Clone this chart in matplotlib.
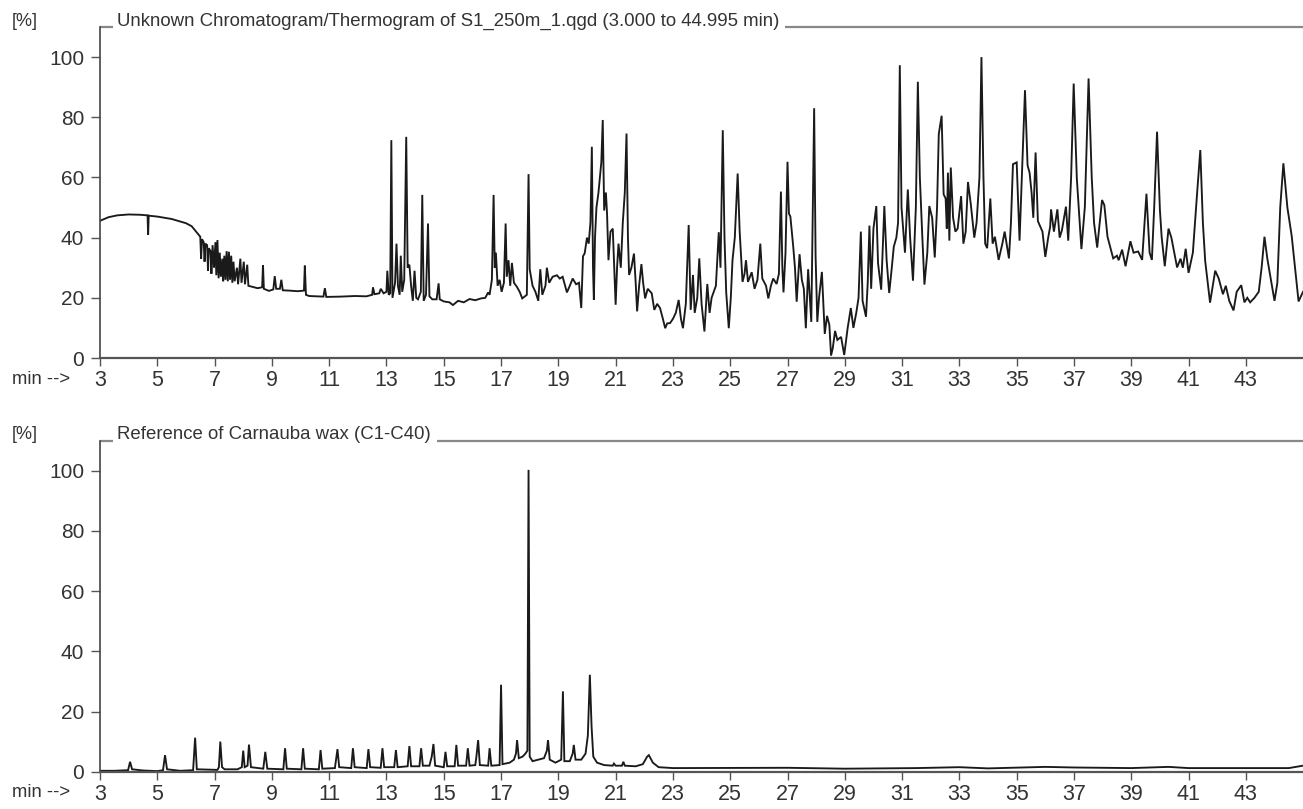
import matplotlib
matplotlib.use("Agg")
import matplotlib.pyplot as plt
import matplotlib.transforms as mtransforms

plt.rcParams['font.family'] = ['Liberation Sans', 'DejaVu Sans']

# ---------------- data ----------------
x_ticks = [3, 5, 7, 9, 11, 13, 15, 17, 19, 21, 23, 25, 27, 29, 31, 33, 35, 37, 39, 41, 43]
y_ticks = [0, 20, 40, 60, 80, 100]

title_top = "Unknown Chromatogram/Thermogram of S1_250m_1.qgd (3.000 to 44.995 min)"
title_bottom = "Reference of Carnauba wax (C1-C40)"

unknown_time = [
    3.00, 3.3, 3.6, 4.0, 4.4, 4.66, 4.68, 4.70, 5.0, 5.5, 6.0, 6.2, 6.4,
    6.50, 6.53, 6.56, 6.62, 6.65, 6.68, 6.74, 6.77, 6.80, 6.86, 6.89, 6.93, 6.98,
    7.03, 7.06, 7.10, 7.14, 7.18, 7.22, 7.27, 7.30, 7.34, 7.38, 7.42, 7.46, 7.50,
    7.54, 7.58, 7.62, 7.66, 7.70, 7.78, 7.82, 7.90, 7.94, 8.02, 8.06, 8.14, 8.18,
    8.30, 8.50, 8.66, 8.69, 8.72, 8.90, 9.05, 9.10, 9.15, 9.28, 9.33, 9.38, 9.60,
    9.90, 10.12, 10.15, 10.19, 10.30, 10.80, 10.85, 10.90, 11.40, 11.90, 12.30,
    12.50, 12.53, 12.58, 12.75, 12.80, 12.90, 13.00, 13.03, 13.08, 13.13, 13.17,
    13.21, 13.30, 13.35, 13.40, 13.46, 13.50, 13.55, 13.62, 13.69, 13.74, 13.80,
    13.86, 13.92, 13.98, 14.04, 14.10, 14.20, 14.25, 14.30, 14.38, 14.45, 14.50,
    14.60, 14.75, 14.82, 14.86, 15.00, 15.20, 15.32, 15.50, 15.70, 15.90, 16.10,
    16.30, 16.45, 16.55, 16.60, 16.68, 16.74, 16.78, 16.82, 16.88, 16.95, 17.02,
    17.10, 17.16, 17.20, 17.26, 17.32, 17.38, 17.45, 17.55, 17.65, 17.74, 17.90,
    17.96, 18.00, 18.10, 18.20, 18.30, 18.37, 18.44, 18.55, 18.60, 18.68, 18.80,
    18.95, 19.05, 19.15, 19.30, 19.40, 19.50, 19.62, 19.72, 19.80, 19.86, 19.92,
    20.00, 20.06, 20.12, 20.17, 20.21, 20.24, 20.28, 20.33, 20.40, 20.45, 20.50,
    20.55, 20.60, 20.66, 20.70, 20.75, 20.82, 20.90, 20.95, 21.00, 21.05, 21.10,
    21.18, 21.25, 21.32, 21.38, 21.43, 21.47, 21.55, 21.64, 21.70, 21.75, 21.82,
    21.90, 21.96, 22.03, 22.12, 22.26, 22.35, 22.45, 22.55, 22.65, 22.73, 22.80,
    22.90, 23.00, 23.10, 23.20, 23.28, 23.35, 23.45, 23.55, 23.62, 23.70, 23.76,
    23.85, 23.92, 24.00, 24.10, 24.20, 24.28, 24.35, 24.50, 24.60, 24.66, 24.74,
    24.80, 24.86, 24.95, 25.02, 25.08, 25.16, 25.26, 25.33, 25.43, 25.50, 25.55,
    25.62, 25.75, 25.85, 25.95, 26.05, 26.12, 26.25, 26.33, 26.42, 26.50, 26.62,
    26.70, 26.77, 26.82, 26.86, 26.93, 27.00, 27.05, 27.10, 27.20, 27.26, 27.32,
    27.42, 27.50, 27.57, 27.64, 27.72, 27.78, 27.83, 27.93, 27.98, 28.04, 28.10,
    28.20, 28.30, 28.38, 28.46, 28.52, 28.58, 28.66, 28.74, 28.87, 28.98, 29.10,
    29.21, 29.30, 29.40, 29.48, 29.56, 29.62, 29.74, 29.80, 29.86, 29.92, 30.00,
    30.10, 30.16, 30.27, 30.38, 30.46, 30.55, 30.64, 30.71, 30.80, 30.86, 30.92,
    30.98, 31.03, 31.10, 31.20, 31.28, 31.38, 31.48, 31.55, 31.62, 31.70, 31.78,
    31.88, 31.95, 32.05, 32.14, 32.22, 32.28, 32.38, 32.45, 32.52, 32.56, 32.60,
    32.65, 32.70, 32.78, 32.86, 32.94, 33.06, 33.14, 33.22, 33.30, 33.40, 33.52,
    33.60, 33.70, 33.77, 33.84, 33.90, 33.97, 34.08, 34.16, 34.24, 34.37, 34.50,
    34.58, 34.73, 34.80, 34.87, 35.00, 35.10, 35.18, 35.29, 35.38, 35.45, 35.52,
    35.58, 35.66, 35.74, 35.90, 36.00, 36.10, 36.17, 36.20, 36.30, 36.42, 36.50,
    36.58, 36.72, 36.80, 36.90, 36.99, 37.10, 37.26, 37.38, 37.51, 37.62, 37.70,
    37.81, 37.98, 38.06, 38.17, 38.37, 38.50, 38.56, 38.68, 38.80, 38.97, 39.08,
    39.24, 39.38, 39.53, 39.64, 39.72, 39.80, 39.90, 40.00, 40.06, 40.17, 40.30,
    40.40, 40.60, 40.72, 40.80, 40.90, 41.00, 41.15, 41.30, 41.41, 41.50, 41.58,
    41.75, 41.93, 42.05, 42.20, 42.30, 42.42, 42.57, 42.68, 42.84, 42.95, 43.05,
    43.15, 43.30, 43.45, 43.55, 43.65, 43.75, 44.00, 44.10, 44.20, 44.31, 44.45,
    44.60, 44.84, 44.995,
]
unknown_signal = [
    45.6, 46.8, 47.4, 47.7, 47.6, 47.4, 41.0, 47.3, 47.0, 46.2, 44.8, 43.8, 41.5,
    40.3, 33.0, 39.5, 38.5, 32.0, 38.0, 37.5, 29.0, 36.5, 35.5, 28.0, 37.5, 30.0,
    38.5, 27.5, 39.2, 26.5, 35.0, 27.0, 33.0, 25.5, 34.0, 26.0, 35.5, 25.5, 35.3,
    26.0, 34.0, 25.0, 32.0, 25.5, 30.0, 24.5, 33.0, 25.0, 32.0, 24.5, 31.0, 24.0,
    23.7, 23.2, 23.5, 30.9, 23.0, 22.3, 22.8, 27.2, 23.0, 23.0, 26.0, 22.5, 22.4,
    22.2, 22.4, 30.7, 21.0, 20.6, 20.4, 23.2, 20.3, 20.4, 20.6, 20.5,
    21.0, 23.5, 21.2, 21.5, 23.0, 21.5, 22.0, 29.0, 21.0, 21.5, 72.4,
    20.0, 25.0, 38.0, 24.0, 21.0, 34.0, 22.0, 26.0, 73.5, 30.0, 31.0,
    24.0, 19.0, 29.0, 20.0, 19.5, 22.0, 54.2, 19.0, 21.0, 44.7, 20.5,
    19.5, 19.5, 24.8, 19.5, 18.8, 18.5, 17.6, 19.0, 18.5, 19.6, 19.2,
    19.8, 20.0, 21.8, 21.0, 26.0, 54.2, 30.0, 35.0, 24.0, 26.0, 22.0,
    25.0, 44.7, 27.0, 32.5, 24.0, 31.6, 25.0, 23.7, 22.0, 19.8, 21.0,
    61.1, 29.5, 24.0, 22.0, 19.0, 29.5, 21.0, 24.0, 30.0, 25.0, 27.0,
    27.5, 26.4, 27.0, 21.8, 24.0, 26.4, 24.5, 25.0, 16.6, 33.8, 34.8,
    40.0, 38.0, 45.0, 70.2, 30.0, 19.3, 40.0, 50.0, 54.9, 60.0, 65.0,
    79.1, 49.0, 55.0, 48.0, 32.5, 42.0, 43.0, 30.0, 17.7, 30.0, 38.0,
    30.0, 45.0, 55.0, 74.6, 40.0, 27.6, 30.0, 34.7, 25.0, 15.5, 24.0,
    31.2, 25.0, 19.8, 23.0, 21.5, 16.0, 18.0, 16.6, 13.0, 9.9, 11.5,
    11.6, 13.0, 15.0, 19.3, 13.0, 9.9, 18.0, 44.2, 16.0, 27.6, 15.0,
    20.0, 33.1, 18.0, 8.8, 24.6, 15.0, 20.0, 24.0, 41.8, 30.0, 75.7,
    40.0, 21.8, 9.9, 20.0, 32.5, 40.0, 61.3, 42.0, 25.3, 28.0, 32.5,
    25.3, 28.5, 23.0, 26.0, 38.0, 26.4, 24.0, 19.8, 24.0, 26.4, 24.6,
    28.0, 55.3, 30.0, 21.8, 35.0, 65.2, 48.0, 47.0, 37.0, 30.0, 18.7,
    34.5, 26.0, 23.0, 9.9, 29.5, 20.0, 12.0, 83.0, 34.0, 12.0, 20.0,
    28.6, 8.0, 14.0, 11.0, 0.8, 3.3, 9.0, 6.0, 7.0, 1.0, 10.0,
    16.6, 10.0, 15.0, 20.0, 42.0, 19.0, 13.7, 25.0, 44.0, 23.0, 43.0,
    50.5, 31.5, 22.7, 50.5, 32.5, 21.6, 30.0, 37.0, 40.0, 45.0, 97.3,
    50.0, 43.7, 35.0, 56.0, 40.0, 25.7, 50.0, 91.8, 60.0, 41.6, 24.4,
    35.0, 50.5, 46.6, 33.4, 50.0, 74.4, 80.5, 54.4, 53.0, 43.0, 61.6,
    39.0, 63.3, 46.6, 42.0, 43.0, 53.8, 38.0, 42.0, 58.5, 51.0, 40.0,
    45.0, 60.0, 100.0, 60.0, 38.0, 36.5, 53.0, 38.0, 40.3, 32.6, 38.0,
    42.0, 33.1, 45.0, 64.4, 65.0, 39.0, 60.0, 89.0, 64.0, 61.6, 55.0,
    46.6, 68.3, 45.5, 42.0, 33.6, 40.0, 43.7, 49.4, 42.0, 49.4, 40.0,
    42.5, 50.3, 39.0, 60.0, 91.2, 59.6, 36.2, 50.3, 92.9, 60.0, 45.0,
    36.7, 52.5, 50.8, 40.3, 33.1, 34.0, 32.5, 36.0, 30.5, 38.8, 35.0,
    35.4, 32.6, 54.6, 35.0, 32.6, 50.0, 75.2, 49.2, 40.3, 30.5, 43.0,
    40.0, 30.1, 33.0, 30.0, 36.3, 28.3, 35.0, 55.0, 69.1, 45.0, 32.3,
    18.4, 29.0, 26.5, 21.2, 24.0, 19.0, 15.8, 22.0, 24.2, 18.5, 20.0,
    18.5, 20.0, 22.0, 30.0, 40.3, 33.0, 19.0, 25.0, 50.0, 64.7, 50.0,
    40.6, 18.8, 22.0,
]

reference_time = [
    3.0, 3.5, 3.98, 4.05, 4.12, 4.5, 5.0, 5.2, 5.27, 5.34, 5.8, 6.25, 6.32, 6.38,
    7.1, 7.15, 7.2, 7.26, 7.35, 7.8, 7.95, 8.0, 8.05, 8.15, 8.2, 8.27, 8.7, 8.77,
    8.84, 9.4, 9.46, 9.52, 10.03, 10.09, 10.15, 10.64, 10.7, 10.76, 11.2, 11.29,
    11.35, 11.77, 11.83, 11.89, 12.31, 12.37, 12.43, 12.8, 12.86, 12.92, 13.27,
    13.33, 13.39, 13.74, 13.8, 13.86, 14.15, 14.21, 14.27, 14.5, 14.58, 14.64,
    14.7, 15.0, 15.06, 15.12, 15.38, 15.44, 15.5, 15.78, 15.84, 15.9, 16.1, 16.14,
    16.2, 16.26, 16.55, 16.6, 16.66, 16.95, 17.0, 17.05, 17.3, 17.45, 17.52,
    17.56, 17.62, 17.75, 17.85, 17.92, 17.96, 18.0, 18.1, 18.3, 18.5, 18.6,
    18.64, 18.7, 18.9, 19.1, 19.16, 19.21, 19.4, 19.5, 19.54, 19.6, 19.8, 19.95,
    20.03, 20.1, 20.16, 20.22, 20.35, 20.6, 20.9, 20.94, 21.0, 21.22, 21.27,
    21.32, 21.7, 21.95, 22.1, 22.16, 22.3, 22.5, 23.0, 27.0, 29.0, 31.5, 33.0,
    34.0, 36.0, 37.0, 39.0, 40.3, 41.0, 44.5, 44.995,
]
reference_signal = [
    0.3, 0.3, 0.5, 3.3, 0.8, 0.4, 0.2, 0.5, 5.5, 0.8, 0.3, 0.5, 11.3, 0.8,
    0.6, 1.5, 10.0, 1.5, 0.8, 0.8, 1.5, 7.0, 1.5, 2.0, 9.0, 1.5, 1.0, 6.6,
    1.0, 0.8, 7.8, 1.0, 0.8, 7.8, 1.0, 0.8, 7.2, 1.0, 1.2, 7.5,
    1.5, 1.2, 7.8, 1.5, 1.2, 7.5, 1.5, 1.3, 7.8, 1.5, 1.5,
    7.2, 1.5, 1.8, 8.5, 1.8, 1.8, 7.8, 2.0, 2.0, 5.0, 9.2,
    2.0, 1.5, 6.6, 1.8, 1.8, 8.9, 2.0, 2.0, 7.8, 2.0, 2.2, 5.0,
    10.5, 2.2, 2.0, 7.8, 2.0, 2.2, 28.9, 2.5, 3.0, 4.0, 6.0,
    10.5, 4.5, 5.0, 6.0, 7.0, 100.3, 5.0, 3.5, 4.0, 4.5, 7.0,
    10.5, 4.0, 3.0, 4.0, 26.7, 3.5, 3.5, 6.0, 8.9, 4.0, 4.0, 6.0,
    12.0, 32.2, 15.0, 5.0, 3.0, 2.2, 2.0, 2.7, 2.0, 2.0, 3.3,
    2.0, 1.8, 2.5, 5.0, 5.5, 3.0, 1.5, 1.2, 1.3, 1.0, 1.2, 1.5,
    1.1, 1.6, 1.4, 1.2, 1.6, 1.2, 1.2, 2.0,
]

# ---------------- figure ----------------
W, H = 1303, 809
fig = plt.figure(figsize=(W / 100, H / 100), dpi=100)

text_color = '#333333'
line_color = '#1a1a1a'


def make_panel(y0_px, title, t, s):
    # y0_px: pixel row (from top) of the y=0 axis line
    height_px = 331
    ax = fig.add_axes([100 / W, (H - y0_px) / H, 1203 / W, height_px / H])
    ax.plot(t, s, color=line_color, lw=1.35, solid_joinstyle='miter')
    ax.set_xlim(3, 44.995)
    ax.set_ylim(0, 110)
    ax.set_xticks(x_ticks)
    ax.set_yticks(y_ticks)
    ax.set_xticklabels([str(v) for v in x_ticks])
    ax.set_yticklabels([str(v) for v in y_ticks])
    ax.spines['top'].set_visible(False)
    ax.spines['right'].set_color('#c8c8c8')
    ax.spines['right'].set_linewidth(0.8)
    ax.spines['left'].set_color('#444444')
    ax.spines['left'].set_linewidth(1.2)
    ax.spines['bottom'].set_color('#555555')
    ax.spines['bottom'].set_linewidth(1.6)
    ax.tick_params(axis='y', direction='out', length=6.5, width=1.0, color='#555555',
                   labelsize=15, labelcolor=text_color, pad=5)
    ax.tick_params(axis='x', direction='out', length=6, width=1.0, color='#555555',
                   labelsize=15.5, labelcolor=text_color, pad=3)

    # title line along the top of the panel
    ax.plot([0, 13 / 1203], [1, 1], transform=ax.transAxes, color='#888888',
            lw=1.6, clip_on=False, solid_capstyle='butt')
    trans = mtransforms.offset_copy(ax.transAxes, fig=fig, x=0, y=6, units='dots')
    txt = ax.text(17 / 1203, 1, title, transform=trans, fontsize=13.4,
                  color=text_color, va='center', ha='left')
    fig.canvas.draw()
    bb = txt.get_window_extent()
    axbb = ax.get_window_extent()
    x_end = (bb.x1 + 6 - axbb.x0) / axbb.width
    ax.plot([x_end, 1], [1, 1], transform=ax.transAxes, color='#888888',
            lw=1.6, clip_on=False, solid_capstyle='butt')

    # unit labels
    fig.text(12 / W, 1 - (y0_px - 337) / H, "[%]", fontsize=13, color=text_color,
             va='center', ha='left')
    fig.text(12 / W, 1 - (y0_px + 21) / H, "min -->", fontsize=13.3, color=text_color,
             va='center', ha='left')
    return ax


ax_top = make_panel(358, title_top, unknown_time, unknown_signal)
ax_bot = make_panel(771.7, title_bottom, reference_time, reference_signal)

fig.savefig("out.png", dpi=100)
